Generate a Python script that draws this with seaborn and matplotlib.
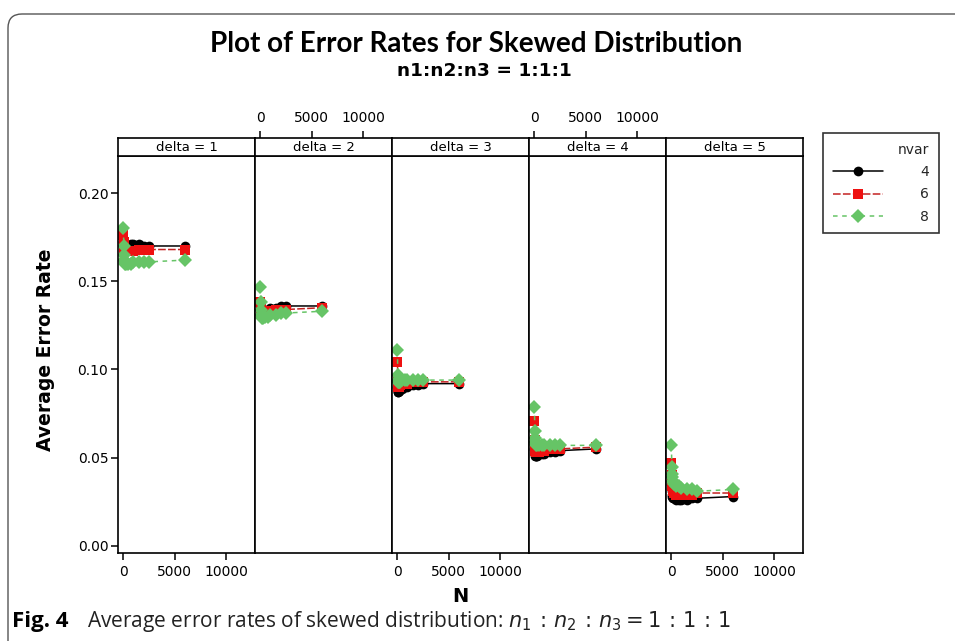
import numpy as np
import pandas as pd
import matplotlib
matplotlib.use("Agg")
import matplotlib.pyplot as plt
import seaborn as sns
from matplotlib.patches import FancyBboxPatch
from matplotlib.lines import Line2D
from matplotlib.transforms import IdentityTransform

# ---------------- data ----------------
deltas = [1, 2, 3, 4, 5]
nvars = [4, 6, 8]
N = [30, 60, 90, 120, 150, 200, 300, 500, 750, 1000, 1500, 2000, 2500, 6000]

d1_nvar4 = [0.172, 0.171, 0.170, 0.170, 0.170, 0.170, 0.170, 0.170, 0.171, 0.171, 0.171, 0.170, 0.170, 0.170]
d1_nvar6 = [0.176, 0.172, 0.170, 0.168, 0.167, 0.167, 0.167, 0.167, 0.167, 0.167, 0.168, 0.168, 0.168, 0.168]
d1_nvar8 = [0.180, 0.170, 0.165, 0.162, 0.161, 0.160, 0.160, 0.160, 0.160, 0.161, 0.161, 0.161, 0.161, 0.162]

d2_nvar4 = [0.136, 0.135, 0.134, 0.133, 0.133, 0.133, 0.134, 0.134, 0.134, 0.135, 0.135, 0.136, 0.136, 0.136]
d2_nvar6 = [0.138, 0.136, 0.134, 0.132, 0.132, 0.131, 0.132, 0.132, 0.133, 0.133, 0.134, 0.134, 0.134, 0.135]
d2_nvar8 = [0.147, 0.138, 0.134, 0.131, 0.130, 0.129, 0.129, 0.130, 0.130, 0.131, 0.131, 0.132, 0.132, 0.133]

d3_nvar4 = [0.090, 0.088, 0.087, 0.087, 0.088, 0.088, 0.089, 0.089, 0.090, 0.090, 0.091, 0.091, 0.092, 0.092]
d3_nvar6 = [0.104, 0.095, 0.092, 0.090, 0.090, 0.091, 0.091, 0.092, 0.092, 0.092, 0.093, 0.093, 0.093, 0.093]
d3_nvar8 = [0.111, 0.097, 0.094, 0.093, 0.093, 0.093, 0.093, 0.094, 0.094, 0.094, 0.094, 0.094, 0.094, 0.094]

d4_nvar4 = [0.055, 0.053, 0.052, 0.051, 0.051, 0.051, 0.051, 0.052, 0.052, 0.052, 0.053, 0.053, 0.054, 0.055]
d4_nvar6 = [0.071, 0.060, 0.056, 0.054, 0.053, 0.053, 0.053, 0.053, 0.054, 0.054, 0.055, 0.055, 0.055, 0.056]
d4_nvar8 = [0.079, 0.065, 0.061, 0.059, 0.058, 0.057, 0.057, 0.057, 0.057, 0.057, 0.057, 0.057, 0.057, 0.057]

d5_nvar4 = [0.035, 0.031, 0.029, 0.028, 0.027, 0.027, 0.027, 0.026, 0.026, 0.026, 0.026, 0.027, 0.027, 0.028]
d5_nvar6 = [0.047, 0.040, 0.036, 0.034, 0.032, 0.031, 0.030, 0.029, 0.029, 0.029, 0.029, 0.029, 0.030, 0.030]
d5_nvar8 = [0.057, 0.045, 0.041, 0.039, 0.037, 0.036, 0.035, 0.034, 0.034, 0.033, 0.032, 0.032, 0.031, 0.032]

series = {
    1: {4: d1_nvar4, 6: d1_nvar6, 8: d1_nvar8},
    2: {4: d2_nvar4, 6: d2_nvar6, 8: d2_nvar8},
    3: {4: d3_nvar4, 6: d3_nvar6, 8: d3_nvar8},
    4: {4: d4_nvar4, 6: d4_nvar6, 8: d4_nvar8},
    5: {4: d5_nvar4, 6: d5_nvar6, 8: d5_nvar8},
}
y_ticks = [0.00, 0.05, 0.10, 0.15, 0.20]
x_ticks = [0, 5000, 10000]

rows = []
for d in deltas:
    for v in nvars:
        for n, r in zip(N, series[d][v]):
            rows.append({"delta": d, "nvar": v, "N": n, "rate": r})
df = pd.DataFrame(rows)

# ---------------- styling ----------------
sns.set_theme(style="white")
plt.rcParams["font.family"] = ["DejaVu Sans"]
plt.rcParams["mathtext.fontset"] = "dejavusans"

W, H = 955, 641
fig = plt.figure(figsize=(W / 100, H / 100), dpi=100)

def fx(x):
    return x / W

def fy(y):
    return 1 - y / H

palette = {4: "#000000", 6: "#EE1111", 8: "#66C466"}
line_colors = {4: "#000000", 6: "#C42222", 8: "#66C466"}
markers = {4: "o", 6: "s", 8: "D"}
dashes = {4: "", 6: (5, 1.5), 8: (3, 3)}
msizes = {4: 7, 6: 7.5, 8: 7.5}

panel_left0 = 118
panel_w = 137
strip_top, strip_bot, ax_bot = 138, 156, 553
xlim = (-500, 12800)
ylim = (-0.004, 0.221)
frame_lw = 1.2
tick_fs = 10

for i, d in enumerate(deltas):
    x0 = panel_left0 + i * panel_w
    ax = fig.add_axes([fx(x0), fy(ax_bot), panel_w / W, (ax_bot - strip_bot) / H])
    sub = df[df["delta"] == d]
    for v in nvars:
        sv = sub[sub["nvar"] == v]
        sns.lineplot(data=sv, x="N", y="rate", color=line_colors[v], marker=markers[v],
                     markersize=msizes[v], markeredgewidth=0, markerfacecolor=palette[v],
                     dashes=False, linewidth=1.1, errorbar=None, ax=ax, legend=False)
        if dashes[v]:
            ax.lines[-1].set_dashes(dashes[v])
    ax.set_xlim(*xlim)
    ax.set_ylim(*ylim)
    ax.set_xlabel("")
    ax.set_ylabel("")
    for sp in ax.spines.values():
        sp.set_color("black")
        sp.set_linewidth(frame_lw)
    ax.set_yticks(y_ticks)
    if i == 0:
        ax.set_yticklabels([f"{t:.2f}" for t in y_ticks])
        ax.tick_params(axis="y", left=True, length=5, width=1.1, color="black",
                       labelsize=tick_fs, pad=2, labelcolor="black")
    else:
        ax.tick_params(axis="y", left=False, labelleft=False)
    ax.set_xticks(x_ticks)
    if i % 2 == 0:
        ax.tick_params(axis="x", bottom=True, length=5, width=1.1, color="black",
                       labelsize=tick_fs, pad=4, labelcolor="black")
        ax.set_xticklabels([str(t) for t in x_ticks])
    else:
        ax.tick_params(axis="x", bottom=False, labelbottom=False)

    # strip
    sax = fig.add_axes([fx(x0), fy(strip_bot), panel_w / W, (strip_bot - strip_top) / H])
    sax.set_xlim(*xlim)
    sax.set_ylim(0, 1)
    sax.set_yticks([])
    for sp in sax.spines.values():
        sp.set_color("black")
        sp.set_linewidth(frame_lw)
    sax.text(0.5, 0.45, f"delta = {d}", transform=sax.transAxes, ha="center",
             va="center", fontsize=9.5, color="black")
    if i % 2 == 1:
        sax.xaxis.tick_top()
        sax.set_xticks(x_ticks)
        sax.set_xticklabels([str(t) for t in x_ticks])
        sax.tick_params(axis="x", top=True, length=5, width=1.1, color="black",
                        labelsize=tick_fs, pad=4, labelcolor="black")
    else:
        sax.set_xticks([])

# axis labels
fig.text(fx(460), fy(597), "N", ha="center", va="center", fontsize=14,
         fontweight="bold", color="black")
fig.text(fx(46), fy(350), "Average Error Rate", ha="center", va="center",
         rotation=90, fontsize=13.5, fontweight="bold", color="black")

# titles
fig.text(fx(476), fy(44), "Plot of Error Rates for Skewed Distribution",
         ha="center", va="center", fontsize=20, fontweight="bold",
         family=["Lato", "DejaVu Sans"], color="black")
fig.text(fx(484), fy(71), "n1:n2:n3 = 1:1:1", ha="center", va="center",
         fontsize=13.3, fontweight="bold", color="black")

# legend
handles = []
for v in nvars:
    h = Line2D([0], [0], color=line_colors[v], marker=markers[v], markersize=msizes[v],
               markerfacecolor=palette[v], markeredgewidth=0, linewidth=1.1)
    if dashes[v]:
        h.set_dashes(dashes[v])
    handles.append(h)
leg = fig.legend(handles, [str(v) for v in nvars], title="nvar", loc="upper left",
                 bbox_to_anchor=(fx(823), fy(133)), borderaxespad=0, frameon=True,
                 fancybox=False, edgecolor="black", fontsize=10, title_fontsize=10,
                 handlelength=3.6, borderpad=0.7, labelspacing=0.6, handletextpad=2.7,
                 alignment="right")
leg.get_frame().set_linewidth(1.2)

# caption
fig.text(fx(12), fy(622), "Fig. 4", ha="left", va="center", fontsize=16,
         fontweight="bold", family=["Open Sans", "DejaVu Sans"], color="black")
fig.text(fx(87), fy(622),
         r"Average error rates of skewed distribution: $n_1\,:\,n_2\,:\,n_3 = 1\,:\,1\,:\,1$",
         ha="left", va="center", fontsize=15, family=["Open Sans", "DejaVu Sans"],
         color="#222222")

# border
border = FancyBboxPatch((8, -30), 990, 641 - 14 + 30, boxstyle="round,pad=0,rounding_size=14",
                        transform=IdentityTransform(), facecolor="none",
                        edgecolor="#555555", linewidth=1.0)
fig.add_artist(border)

fig.savefig("out.png", dpi=100)
